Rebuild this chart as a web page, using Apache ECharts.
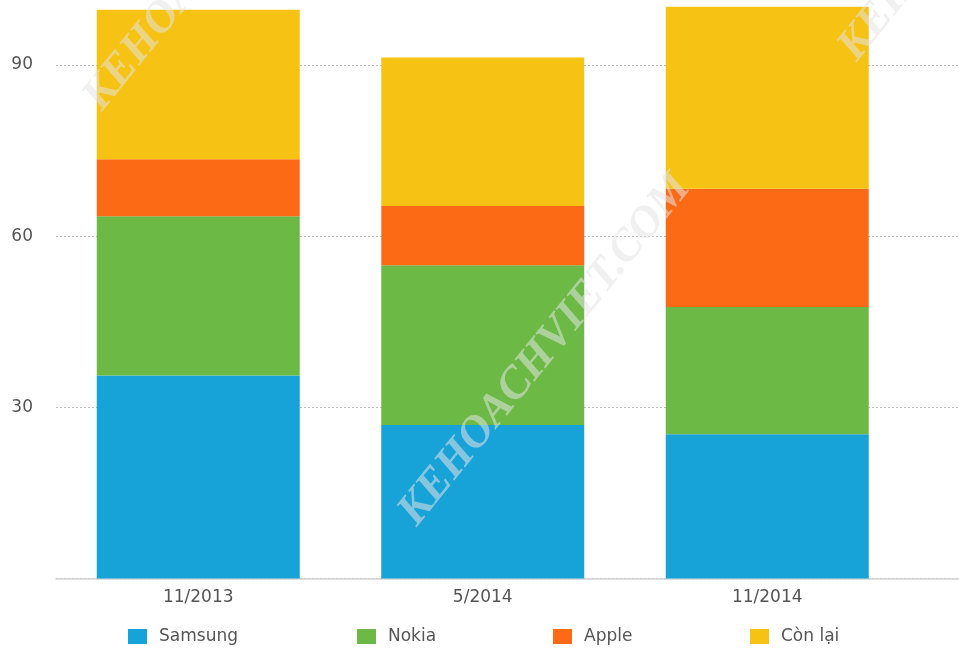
<!DOCTYPE html>
<html>
<head>
<meta charset="utf-8">
<script src="https://cdn.jsdelivr.net/npm/echarts@6/dist/echarts.min.js"></script>
<style>html,body{margin:0;padding:0;background:#fff;}#c{width:959px;height:650px;}</style>
</head>
<body>
<div id="c"></div>
<script>
const categories = ['11/2013', '5/2014', '11/2014'];
const samsung = [35.6, 26.9, 25.3];
const nokia = [27.9, 28.0, 22.3];
const apple = [10.0, 10.4, 20.7];
const conLai = [26.2, 26.0, 31.9];
const yTicks = [0, 30, 60, 90];
const seriesNames = ['Samsung', 'Nokia', 'Apple', 'Còn lại'];
const seriesData = [samsung, nokia, apple, conLai];
const colors = ['#17a2d8', '#6cba45', '#fd6a16', '#f6c213'];
const legendLeft = [128, 357, 553, 750];
const watermark = 'KEHOACHVIET.COM';

const FONT = 'DejaVu Sans';
const chart = echarts.init(document.getElementById('c'), null, {renderer: 'canvas'});
const wmStyle = {
  text: watermark,
  font: 'italic bold 45px "Liberation Serif"',
  fill: 'rgba(228,228,228,0.55)',
  textAlign: 'center',
  textVerticalAlign: 'middle'
};
const rot = 51 * Math.PI / 180;
chart.setOption({
  animation: false,
  backgroundColor: '#fff',
  textStyle: {fontFamily: FONT},
  color: colors,
  grid: [
    {left: 56, right: 0, top: 65, height: 513.5},
    {left: 56, width: 853.5, top: 65, height: 513.5}
  ],
  xAxis: [
    {type: 'value', gridIndex: 0, min: 0, max: 1, axisLine: {show: true, onZero: false, lineStyle: {color: '#d4d4d4', width: 1.5}},
     axisTick: {show: false}, axisLabel: {show: false}, splitLine: {show: false}},
    {type: 'category', gridIndex: 1, data: categories, axisLine: {show: false}, axisTick: {show: false},
     axisLabel: {color: '#555', fontSize: 17, fontFamily: FONT, margin: 11}}
  ],
  yAxis: [
    {type: 'value', gridIndex: 0, min: yTicks[0], max: yTicks[yTicks.length - 1], interval: yTicks[1] - yTicks[0],
     axisLine: {show: false}, axisTick: {show: false},
     axisLabel: {color: '#555', fontSize: 17, fontFamily: FONT, margin: 23, showMinLabel: false},
     splitLine: {show: true, lineStyle: {color: '#bdbdbd', type: [2, 2], width: 1}}},
    {type: 'value', gridIndex: 1, min: yTicks[0], max: yTicks[yTicks.length - 1], show: false, splitLine: {show: false}}
  ],
  legend: seriesNames.map((n, i) => ({
    data: [n], left: legendLeft[i], top: 628, icon: 'rect', itemWidth: 19, itemHeight: 15,
    padding: 0, selectedMode: false,
    textStyle: {color: '#555', fontSize: 17, fontFamily: FONT, padding: [0, 0, 0, 7]}
  })),
  series: seriesNames.map((n, i) => ({
    name: n, type: 'bar', stack: 'total', xAxisIndex: 1, yAxisIndex: 1,
    barWidth: 203, clip: false, data: seriesData[i],
    itemStyle: {color: colors[i]}
  })),
  graphic: [
    {type: 'text', x: 545, y: 350, rotation: rot, z: 100, silent: true, style: wmStyle},
    {type: 'text', x: 230, y: -65, rotation: rot, z: 100, silent: true, style: wmStyle},
    {type: 'text', x: 985, y: -115, rotation: rot, z: 100, silent: true, style: wmStyle}
  ]
});
</script>
</body>
</html>
